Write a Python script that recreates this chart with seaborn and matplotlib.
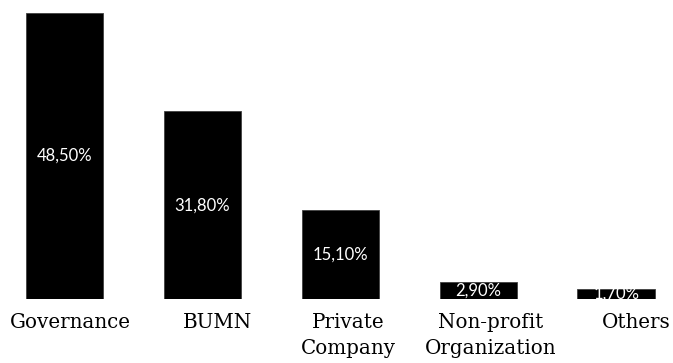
import matplotlib
matplotlib.use("Agg")
import matplotlib.pyplot as plt
import matplotlib.transforms as mtransforms
import seaborn as sns
import pandas as pd

categories = ["Governance", "BUMN", "Private\nCompany", "Non-profit\nOrganization", "Others"]
values = [48.5, 31.8, 15.1, 2.9, 1.7]
value_labels = [f"{v:.2f}".replace(".", ",") + "%" for v in values]

sns.set_style("white")

W, H = 673, 363
fig = plt.figure(figsize=(W / 100, H / 100), dpi=100)
base_px, top_px = 299, 13
ax = fig.add_axes([0, (H - base_px) / H, 1, (base_px - top_px) / H])

df = pd.DataFrame({"cat": categories, "val": values})
sns.barplot(data=df, x="cat", y="val", color="black", width=0.56, ax=ax,
            saturation=1, edgecolor="#404040", linewidth=0.6)

unit = 137.9
ax.set_xlim(-64.5 / unit, (W - 64.5) / unit)
ax.set_ylim(0, 48.5)

for bar, v, lab in zip(ax.patches, values, value_labels):
    t = ax.text(bar.get_x() + bar.get_width() / 2, v / 2, lab, color="white",
                ha="center", va="center", fontsize=12, family=["Lato", "DejaVu Sans"])
    t.set_clip_path(bar)

ax.set_yticks([])
ax.set_xticks(range(len(categories)))
ax.set_xticklabels(categories, family=["DejaVu Serif"], fontsize=14.3, color="black",
                   linespacing=1.45)
ax.tick_params(axis="x", length=0, pad=10)
ax.set_xlabel("")
ax.set_ylabel("")
for s in ax.spines.values():
    s.set_visible(False)

offsets = [6, 15, 8, 12, 20]
for lbl, dx in zip(ax.get_xticklabels(), offsets):
    lbl.set_transform(lbl.get_transform() + mtransforms.ScaledTranslation(dx / 100, 0, fig.dpi_scale_trans))

fig.savefig("out.png", dpi=100)
